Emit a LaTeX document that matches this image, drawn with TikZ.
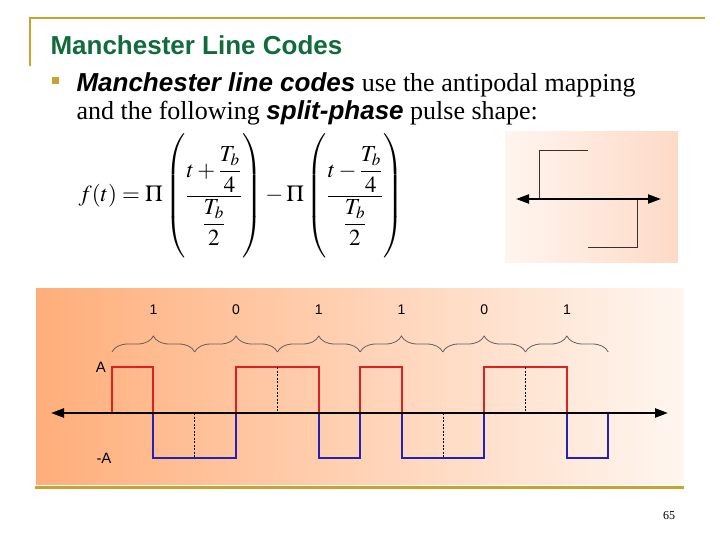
\documentclass[tikz,border=0pt]{standalone}
\usepackage{amsmath}
\usepackage{mathptmx}
\usepackage{fontspec}
\setmainfont{Liberation Serif}
\setsansfont{Liberation Sans}
\usetikzlibrary{arrows.meta, decorations.pathreplacing}
\definecolor{cgold}{HTML}{C9A230}
\definecolor{cgreen}{HTML}{126B3C}
\definecolor{cgrey}{HTML}{606060}
\definecolor{cdark}{HTML}{3A2E2E}
\definecolor{cwred}{HTML}{DD2020}
\definecolor{cwblue}{HTML}{2222B4}
\definecolor{corangeL}{HTML}{FFAE7A}
\definecolor{corangeM}{HTML}{FFD6BC}
\definecolor{corangeR}{HTML}{FFF6F0}
\definecolor{cinsetL}{HTML}{FFF5EF}
\definecolor{cinsetR}{HTML}{FDDAC6}
\newcommand{\tallpar}{\vrule height 59pt depth 58pt width 0pt}
\newcommand{\gapstrut}{\vrule height 26pt depth 0pt width 0pt}
\tikzset{
  every picture/.style={line width=1pt},
  rule/.style={draw=cgold, line width=2pt},
  title/.style={font=\sffamily\bfseries\fontsize{26}{26}\selectfont, text=cgreen, inner sep=0pt},
  body/.style={font=\fontsize{26}{26}\selectfont, inner sep=0pt},
  wave/.style={line width=2pt, line join=miter},
  hi/.style={wave, draw=cwred},
  lo/.style={wave, draw=cwblue},
  slot/.style={draw=black, line width=0.6pt, dash pattern=on 2pt off 1.5pt},
  axis/.style={{Triangle[length=13pt,width=9pt]}-{Triangle[length=13pt,width=9pt]}, line width=2.4pt},
  pulse/.style={draw=cdark, line width=1pt},
  bitbrace/.style={decorate, decoration={brace, amplitude=16pt}, draw=cgrey, line width=0.8pt},
  level/.style={font=\sffamily\fontsize{15}{15}\selectfont},
  bitlabel/.style={font=\sffamily\fontsize{14}{14}\selectfont},
}

\begin{document}
\begin{tikzpicture}[x=1pt, y=-1pt]
  \useasboundingbox[fill=white] (0,0) rectangle (720,540);
  % slide frame
  \draw[rule] (30,66) -- (30,18) -- (705,18);
  \node[title, anchor=base west] (title) at (50,55) {Manchester Line Codes};
  \node[fill=cgold, minimum size=7pt, inner sep=0pt] (bullet) at (55.5,81) {};
  \node[body, anchor=base west] (line1) at (76,92)
    {{\sffamily\bfseries\itshape Manchester line codes} use the antipodal mapping};
  \node[body, anchor=base west] (line2) at (76,120)
    {and the following {\sffamily\bfseries\itshape split-phase} pulse shape:};
  % pulse formula
  \node[inner sep=0pt] (formula) at (241,197) {\fontsize{23}{27}\selectfont
    $\displaystyle f(t)=\Pi\left(\tallpar\frac{t+\dfrac{T_b}{4}}{\gapstrut\dfrac{T_b}{2}}\right)-\Pi\left(\tallpar\frac{t-\dfrac{T_b}{4}}{\gapstrut\dfrac{T_b}{2}}\right)$};
  % split-phase pulse
  \shade[left color=cinsetL, right color=cinsetR] (505,132) rectangle (678,262);
  \coordinate (pl) at (516,199);
  \coordinate (pr) at (661,199);
  \draw[pulse] (539,199) -- (539,151) -- (588,151);
  \draw[pulse] (588,247) -- (637,247) -- (637,199);
  \draw[axis, line width=2pt] (pl) -- (pr);
  % Manchester waveform
  \shade[left color=corangeL, middle color=corangeM, right color=corangeR] (36,288) rectangle (684,484);
  \draw[rule, line width=3pt] (35,487) -- (684,487);
  \foreach \b [count=\i from 0] in {1,0,1,1,0,1} {
    \draw[bitbrace] ({112+82.7*\i},352) -- ({112+82.7*(\i+1)},352);
    \node[bitlabel] (bit\i) at ({153.4+82.7*\i},310) {\b};
  }
  \node[level] (lvlA) at (101,367) {A};
  \node[level] (lvlnA) at (104,458) {-A};
  \foreach \s/\e in {112/153.4, 236/318.8, 360.1/401.5, 484.1/566.9}
    \draw[hi] (\s,413) -- (\s,367) -- (\e,367) -- (\e,413);
  \foreach \s/\e in {153.4/236, 318.8/360.1, 401.5/484.1, 566.9/608.2}
    \draw[lo] (\s,413) -- (\s,458) -- (\e,458) -- (\e,413);
  \draw[slot] (194.7,413) -- (194.7,458);
  \draw[slot] (277.4,367) -- (277.4,413);
  \draw[slot] (442.8,413) -- (442.8,458);
  \draw[slot] (525.5,367) -- (525.5,413);
  \coordinate (axL) at (51,413);
  \coordinate (axR) at (668,413);
  \draw[axis] (axL) -- (axR);
  \node[font=\fontsize{12}{12}\selectfont] (pnum) at (669,516) {65};
\end{tikzpicture}
\end{document}
